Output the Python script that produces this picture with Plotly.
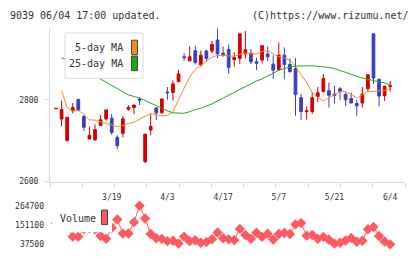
import plotly.graph_objects as go

# ---------------- data ----------------
opens = [2778, 2753, 2700, 2773, 2801, 2759, 2704, 2702, 2737, 2753,
         2755, 2708, 2718, 2777, 2781, 2801, 2649, 2726, 2780, 2768,
         2819, 2818, 2844, 2905, 2895, 2920, 2885, 2919, 2919, 2946,
         2914, 2923, 2898, 2901, 2912, 2914, 2893, 2897, 2912, 2887,
         2873, 2909, 2886, 2876, 2805, 2771, 2771, 2808, 2820, 2822,
         2814, 2827, 2813, 2803, 2791, 2792, 2827, 2961, 2850, 2810, 2832]
highs = [2780, 2798, 2758, 2792, 2801, 2763, 2735, 2740, 2763, 2776,
         2766, 2713, 2760, 2787, 2788, 2806, 2716, 2765, 2781, 2803,
         2831, 2847, 2873, 2914, 2931, 2932, 2920, 2922, 2944, 2975,
         2930, 2935, 2916, 2961, 2968, 2924, 2903, 2933, 2930, 2909,
         2940, 2928, 2901, 2902, 2814, 2784, 2818, 2831, 2863, 2842,
         2834, 2831, 2818, 2818, 2800, 2831, 2862, 2962, 2851, 2834, 2846]
lows = [2777, 2735, 2700, 2767, 2772, 2724, 2704, 2700, 2737, 2750,
        2714, 2679, 2708, 2773, 2765, 2787, 2645, 2713, 2751, 2767,
        2800, 2798, 2844, 2895, 2894, 2886, 2881, 2893, 2914, 2901,
        2905, 2864, 2881, 2887, 2901, 2887, 2873, 2889, 2895, 2851,
        2872, 2850, 2866, 2761, 2750, 2751, 2765, 2794, 2818, 2781,
        2791, 2800, 2784, 2792, 2761, 2781, 2820, 2839, 2784, 2797, 2820]
closes = [2779, 2776, 2757, 2781, 2775, 2733, 2713, 2727, 2751, 2775,
          2720, 2688, 2753, 2781, 2787, 2799, 2716, 2735, 2768, 2802,
          2817, 2839, 2863, 2903, 2905, 2891, 2909, 2901, 2935, 2912,
          2909, 2879, 2903, 2961, 2922, 2893, 2889, 2932, 2905, 2872,
          2909, 2886, 2869, 2813, 2771, 2773, 2805, 2817, 2852, 2811,
          2811, 2820, 2800, 2792, 2785, 2814, 2861, 2853, 2809, 2833, 2834]

ma5 = [None, 2822, 2781, 2772, 2774, 2765, 2751, 2750, 2746, 2742,
       2739, 2734, 2737, 2742, 2745, 2752, 2760, 2767, 2763, 2760,
       2762, 2770, 2800, 2830, 2856, 2874, 2884, 2896, 2904, 2908,
       2909, 2907, 2906, 2911, 2914, 2912, 2912, 2918, 2920, 2912,
       2905, 2902, 2897, 2881, 2861, 2842, 2818, 2805, 2797, 2805,
       2812, 2820, 2820, 2812, 2805, 2812, 2820, 2820, 2822, 2822, 2828]
ma25 = [None, 2902, 2899, 2893, 2885, 2876, 2867, 2858, 2850, 2844,
        2834, 2826, 2818, 2812, 2808, 2804, 2798, 2792, 2784, 2779,
        2773, 2768, 2767, 2767, 2771, 2776, 2779, 2784, 2790, 2797,
        2804, 2810, 2818, 2825, 2832, 2840, 2846, 2851, 2858, 2866,
        2872, 2876, 2880, 2882, 2883, 2883, 2883, 2882, 2881, 2879,
        2876, 2872, 2867, 2862, 2857, 2853, 2850, 2847, 2844, 2841, 2836]

volume = [160000, 150000, 140000, 82900, 82900, 128000, 132000, 126000, 86900, 69900,
          135000, 183500, 101700, 101700, 168100, 264700, 189200, 98300, 73300, 69900,
          56200, 58500, 41500, 82900, 56200, 62000, 47200, 50600, 67600, 107400,
          73300, 67600, 63000, 128400, 92600, 69900, 105700, 81200, 100000, 65900,
          98300, 104000, 98300, 155100, 162500, 88600, 92600, 69900, 81200, 64200,
          41500, 47200, 60200, 75500, 52900, 58500, 126700, 139700, 86900, 54500, 37500]

date_ticks = [10, 20, 30, 40, 50, 60]
date_labels = ["3/19", "4/3", "4/17", "5/7", "5/21", "6/4"]
price_ticks = [2600, 2800]
vol_ticks = [37500, 151100, 264700]

header_left = "9039 06/04 17:00 updated."
header_right = "(C)https://www.rizumu.net/"
legend_ma = ["5-day MA", "25-day MA"]
legend_vol = "Volume"

# ---------------- style ----------------
W, H = 420, 259
RED = "#d40000"
BLUE = "#3b3fbf"
ORANGE = "#f39018"
GREEN = "#1caa1c"
VOLC = "#ff5a60"
AXC = "#d9d9d9"
TXT = "#333333"
FONT = "DejaVu Sans Mono"

idx = list(range(len(closes)))
XR = [-1.08, 62.66]


def px(x):
    return x / W


def py(y):
    return 1 - y / H


fig = go.Figure()
fig.add_trace(go.Candlestick(
    x=idx, open=opens, high=highs, low=lows, close=closes,
    increasing=dict(line=dict(color=RED, width=1), fillcolor=RED),
    decreasing=dict(line=dict(color=BLUE, width=1), fillcolor=BLUE),
    whiskerwidth=0, showlegend=False, hoverinfo="skip",
    xaxis="x", yaxis="y"))
fig.add_trace(go.Scatter(x=idx, y=ma5, mode="lines",
                         line=dict(color=ORANGE, width=1),
                         showlegend=False, hoverinfo="skip", xaxis="x", yaxis="y"))
fig.add_trace(go.Scatter(x=idx, y=ma25, mode="lines",
                         line=dict(color=GREEN, width=1),
                         showlegend=False, hoverinfo="skip", xaxis="x", yaxis="y"))
fig.add_trace(go.Scatter(x=idx, y=volume, mode="lines+markers",
                         line=dict(color=VOLC, width=1),
                         marker=dict(symbol="diamond", size=8, color=VOLC),
                         cliponaxis=False,
                         showlegend=False, hoverinfo="skip", xaxis="x2", yaxis="y2"))

tickfont = dict(family=FONT, size=8, color=TXT)

fig.update_layout(
    width=W, height=H,
    margin=dict(l=0, r=0, t=0, b=0),
    paper_bgcolor="white", plot_bgcolor="white",
    showlegend=False,
    xaxis=dict(domain=[px(50), px(405)], range=XR, anchor="y",
               rangeslider=dict(visible=False),
               showline=True, linecolor=AXC, linewidth=1,
               showgrid=False, zeroline=False,
               tickmode="array", tickvals=date_ticks, ticktext=date_labels,
               ticks="outside", ticklen=8, tickcolor="rgba(0,0,0,0)",
               tickfont=tickfont,
               minor=dict(tickmode="linear", tick0=XR[0], dtick=(XR[1] - XR[0]) / 11,
                          ticks="outside", ticklen=5, tickcolor=AXC, tickwidth=1,
                          showgrid=False)),
    yaxis=dict(domain=[py(184), py(25)], range=[2600, 2975], anchor="x",
               showline=True, linecolor=AXC, linewidth=1,
               showgrid=False, zeroline=False,
               tickmode="array", tickvals=price_ticks,
               ticks="outside", ticklen=5, tickcolor=AXC,
               tickfont=tickfont, ticklabelstandoff=4),
    xaxis2=dict(domain=[px(50), px(405)], range=XR, anchor="y2",
                visible=False, rangeslider=dict(visible=False)),
    yaxis2=dict(domain=[py(249), py(209)], range=[37500, 264700], anchor="x2",
                showline=False, showgrid=False, zeroline=False,
                tickmode="array", tickvals=vol_ticks,
                ticktext=[str(v) for v in vol_ticks],
                ticks="", tickfont=tickfont, ticklabelstandoff=5),
)

shapes = []
annos = []
# header
annos.append(dict(xref="paper", yref="paper", x=px(8), y=py(12), xanchor="left", yanchor="middle",
                  text=header_left, showarrow=False, font=dict(family=FONT, size=10, color=TXT)))
annos.append(dict(xref="paper", yref="paper", x=px(411), y=py(12), xanchor="right", yanchor="middle",
                  text=header_right, showarrow=False, font=dict(family=FONT, size=10, color=TXT)))

# MA legend box
shapes.append(dict(type="rect", xref="paper", yref="paper", layer="above",
                   x0=px(65), x1=px(143), y0=py(77), y1=py(30),
                   line=dict(color=AXC, width=1), fillcolor="white"))
for lbl, col, yc in zip(legend_ma, [ORANGE, GREEN], [45, 61.5]):
    annos.append(dict(xref="paper", yref="paper", x=px(125), y=py(yc), xanchor="right", yanchor="middle",
                      text=lbl, showarrow=False, font=dict(family=FONT, size=10, color=TXT)))
    shapes.append(dict(type="rect", xref="paper", yref="paper", layer="above",
                       x0=px(131.5), x1=px(137.5), y0=py(yc + 7.5), y1=py(yc - 7.5),
                       line=dict(color="#444444", width=1), fillcolor=col))

# Volume legend box
shapes.append(dict(type="rect", xref="paper", yref="paper", layer="above",
                   x0=px(52), x1=px(112), y0=py(236.5), y1=py(205),
                   line=dict(width=0), fillcolor="white"))
annos.append(dict(xref="paper", yref="paper", x=px(58), y=py(222), xanchor="left", yanchor="middle",
                  text=legend_vol, showarrow=False, font=dict(family=FONT, size=10, color=TXT)))
shapes.append(dict(type="rect", xref="paper", yref="paper", layer="above",
                   x0=px(101.5), x1=px(107.5), y0=py(228.5), y1=py(213.5),
                   line=dict(color="#444444", width=1), fillcolor=VOLC))

fig.update_layout(shapes=shapes, annotations=annos)
fig.write_html("out.html")
